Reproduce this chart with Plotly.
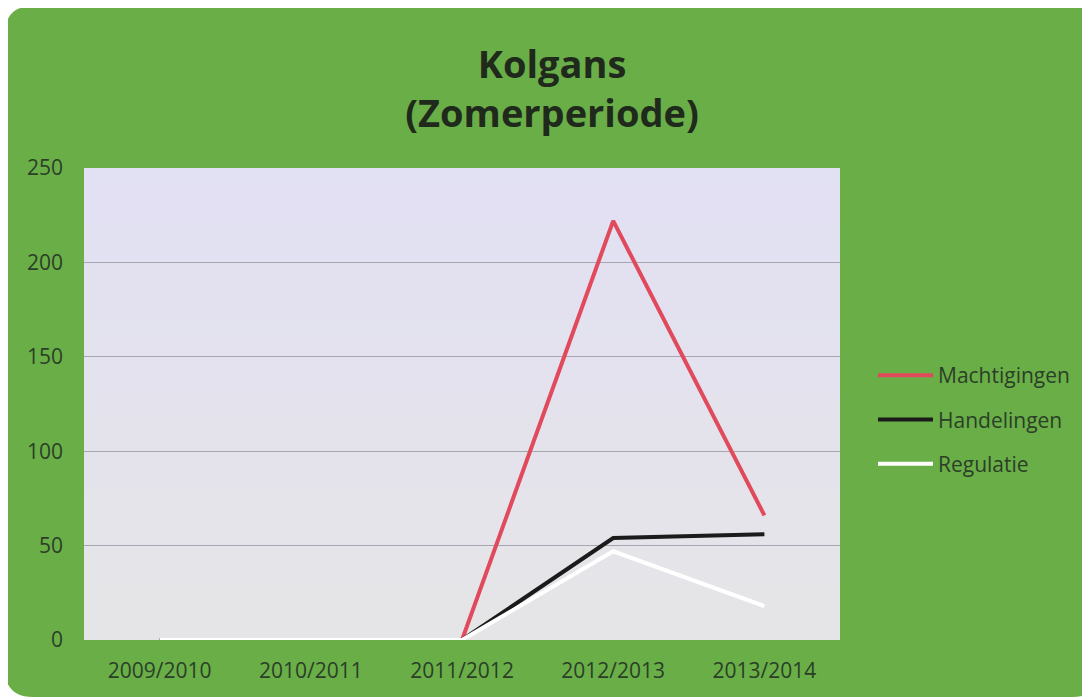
import plotly.graph_objects as go

# seizoenen en aantallen
seizoenen = ["2009/2010", "2010/2011", "2011/2012", "2012/2013", "2013/2014"]
machtigingen = [0, 0, 0, 222, 66]
handelingen = [0, 0, 0, 54, 56]
regulatie = [0, 0, 0, 47, 18]

y_ticks = [0, 50, 100, 150, 200, 250]

groen = "#6aae47"
tekst = "#2b3f28"

fig = go.Figure()

# volgorde van tekenen: wit bovenop
fig.add_trace(go.Scatter(x=seizoenen, y=machtigingen, mode="lines", name="Machtigingen",
                         line=dict(color="#e04a5c", width=4), legendgroup="a", legendrank=1))
fig.add_trace(go.Scatter(x=seizoenen, y=handelingen, mode="lines", name="Handelingen",
                         line=dict(color="#1b1b1b", width=4), legendgroup="b", legendrank=2))
fig.add_trace(go.Scatter(x=seizoenen, y=regulatie, mode="lines", name="Regulatie",
                         line=dict(color="#ffffff", width=4), legendgroup="c", legendrank=3))

# de pagina heeft 8px marge, daarom alles 8px verschoven
off = 8
W, H = 1090, 700
ml, mr, mt, mb = 84 - off, 1090 - 840 + off, 168 - off, 60 + off
pw, ph = W - ml - mr, H - mt - mb

# verloop in de achtergrond van het plotvlak
top = (226, 224, 243)
bodem = (229, 229, 231)
n = 25
shapes = []
for i in range(n):
    f = i / (n - 1)
    c = tuple(round(bodem[k] + (top[k] - bodem[k]) * f) for k in range(3))
    shapes.append(dict(type="rect", xref="paper", yref="paper",
                       x0=0, x1=1, y0=i / n, y1=min(1, (i + 1.6) / n),
                       fillcolor="rgb(%d,%d,%d)" % c, line=dict(width=0), layer="below"))

# groene kaart met afgeronde hoeken achter alles
def px(x):
    return (x - off - ml) / pw
def py(y):
    return (H - mb - (y - off)) / ph
r = 28
x0, x1, y0, y1 = 5, 1100, 6, 697
pad = (f"M {px(x0 + r)} {py(y0)} L {px(x1 - r)} {py(y0)} "
       f"Q {px(x1)} {py(y0)} {px(x1)} {py(y0 + r)} "
       f"L {px(x1)} {py(y1 - r)} Q {px(x1)} {py(y1)} {px(x1 - r)} {py(y1)} "
       f"L {px(x0 + r)} {py(y1)} Q {px(x0)} {py(y1)} {px(x0)} {py(y1 - r)} "
       f"L {px(x0)} {py(y0 + r)} Q {px(x0)} {py(y0)} {px(x0 + r)} {py(y0)} Z")
shapes.insert(0, dict(type="path", xref="paper", yref="paper", path=pad,
                      fillcolor=groen, line=dict(width=0), layer="below"))

fig.update_layout(
    width=W, height=H,
    margin=dict(l=ml, r=mr, t=mt, b=mb),
    paper_bgcolor="white",
    plot_bgcolor="rgb(228,227,238)",
    shapes=shapes,
    title=dict(text="<b>Kolgans<br>(Zomerperiode)</b>", x=(552 - off) / W, xanchor="center",
               y=1 - (78 - off) / H, yanchor="top",
               font=dict(family="Open Sans, Lato, sans-serif", size=38, color="#1f2a1d")),
    font=dict(family="Open Sans, Lato, sans-serif", size=21, color=tekst),
    showlegend=True,
    legend=dict(x=(873 - 84) / pw, xanchor="left", y=(640 - 355) / ph, yanchor="top",
                bgcolor="rgba(0,0,0,0)", font=dict(size=21, color=tekst),
                tracegroupgap=14, itemwidth=55, traceorder="grouped"),
    xaxis=dict(showgrid=False, zeroline=False, showline=False, ticks="",
               range=[-0.5, 4.5], tickfont=dict(size=21, color=tekst), ticklabelstandoff=16),
    yaxis=dict(range=[0, 250], tickvals=y_ticks, showgrid=True, gridcolor="#a6a6b0",
               gridwidth=1, zeroline=False, showline=False, ticks="",
               tickfont=dict(size=21, color=tekst), ticklabelstandoff=20),
)

fig.write_html("out.html")
